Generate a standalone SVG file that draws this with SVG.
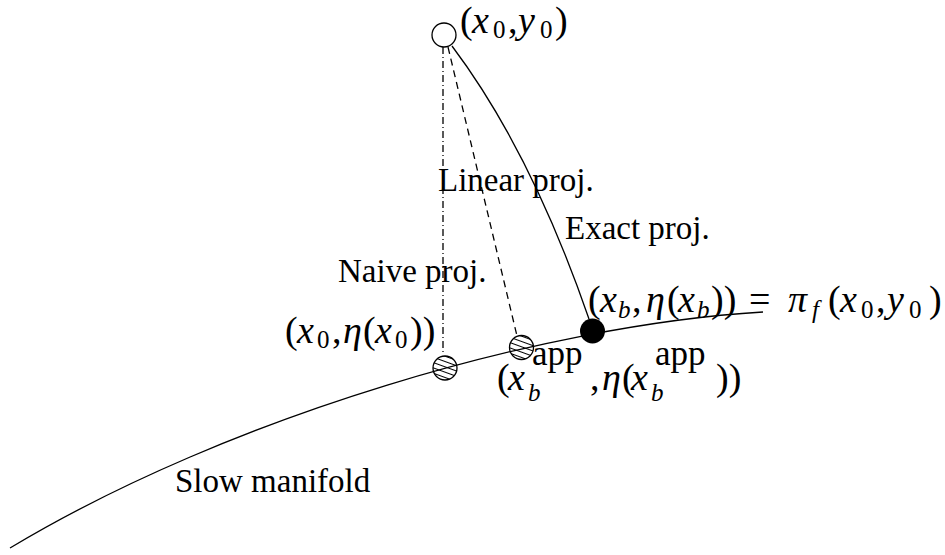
<svg xmlns="http://www.w3.org/2000/svg" width="945" height="555" viewBox="0 0 945 555">
<style>
.ln{fill:none;stroke:#000;stroke-width:1.3}
text{font-family:'Liberation Serif','Times New Roman',serif;fill:#000}
.t{font-size:33px}
.m{font-size:38px}
.i{font-style:italic}
.s{font-size:25px}
.a{font-size:35px}
</style>
<defs>
<pattern id="hatch" width="5" height="5" patternUnits="userSpaceOnUse" patternTransform="rotate(20)">
<line x1="0" y1="2.5" x2="5" y2="2.5" stroke="#000" stroke-width="1"/>
</pattern>
</defs>
<rect width="945" height="555" fill="#fff"/>
<g id="connectors">
<path class="ln" d="M10,548 C230,416 543,325 763,312"/>
<path class="ln" d="M452,46 Q531,151 589,319"/>
<line class="ln" x1="443" y1="47" x2="443" y2="355" stroke-dasharray="7 3 1 3"/>
<line class="ln" x1="448" y1="47" x2="517" y2="336" stroke-dasharray="7 5"/>
</g>
<g id="start">
<circle cx="444" cy="35" r="12" fill="#fff" stroke="#000" stroke-width="1.3"/>
</g>
<g id="naive">
<circle cx="445" cy="368" r="12" fill="url(#hatch)" stroke="#000" stroke-width="1.3"/>
</g>
<g id="linear">
<circle cx="521.5" cy="347.5" r="12" fill="url(#hatch)" stroke="#000" stroke-width="1.3"/>
</g>
<g id="exact">
<circle cx="592.5" cy="331" r="12.5" fill="#000"/>
</g>
<g id="labels">
<text class="t" x="438" y="191">Linear proj.</text>
<text class="t" x="565" y="239">Exact proj.</text>
<text class="t" x="338" y="282">Naive proj.</text>
<text class="t" x="175" y="492">Slow manifold</text>
<text class="m" y="33"><tspan x="460">(</tspan><tspan x="472" class="i">x</tspan><tspan x="493" y="38" class="s">0</tspan><tspan x="508" y="33">,</tspan><tspan x="518" class="i">y</tspan><tspan x="540" y="38" class="s">0</tspan><tspan x="555" y="33">)</tspan></text>
<text class="m" y="343"><tspan x="285">(</tspan><tspan x="297" class="i">x</tspan><tspan x="317" y="348" class="s">0</tspan><tspan x="332" y="343">,</tspan><tspan x="343" class="i">η</tspan><tspan x="363">(</tspan><tspan x="375" class="i">x</tspan><tspan x="395" y="348" class="s">0</tspan><tspan x="410" y="343">))</tspan></text>
<text class="m" y="390"><tspan x="497">(</tspan><tspan x="508" class="i">x</tspan><tspan x="528" y="401" class="s i">b</tspan><tspan x="532" y="365" class="a">app</tspan><tspan x="590" y="390">,</tspan><tspan x="602" class="i">η</tspan><tspan x="622">(</tspan><tspan x="631" class="i">x</tspan><tspan x="651" y="401" class="s i">b</tspan><tspan x="655" y="365" class="a">app</tspan><tspan x="716" y="390">))</tspan></text>
<text class="m" y="312"><tspan x="588">(</tspan><tspan x="600" class="i">x</tspan><tspan x="618" y="318" class="s i">b</tspan><tspan x="632" y="312">,</tspan><tspan x="646" class="i">η</tspan><tspan x="667">(</tspan><tspan x="678" class="i">x</tspan><tspan x="697" y="318" class="s i">b</tspan><tspan x="711" y="312">))</tspan><tspan x="749">=</tspan><tspan x="788" class="i">π</tspan><tspan x="812" y="318" class="s i">f</tspan><tspan x="828" y="312">(</tspan><tspan x="840" class="i">x</tspan><tspan x="861" y="318" class="s">0</tspan><tspan x="876" y="312">,</tspan><tspan x="887" class="i">y</tspan><tspan x="909" y="318" class="s">0</tspan><tspan x="929" y="312">)</tspan></text>
</g>
</svg>
